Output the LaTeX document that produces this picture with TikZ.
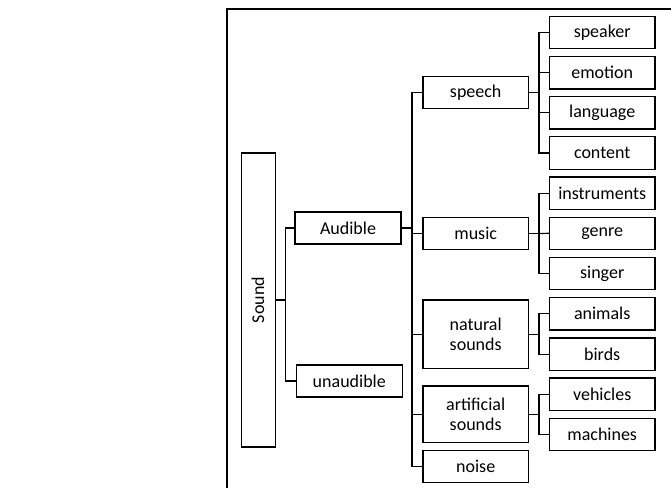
\documentclass[tikz,border=0pt]{standalone}
\usepackage{fontspec}
\setmainfont{Carlito}
\begin{document}
\begin{tikzpicture}[x=1pt,y=-1pt,
  box/.style={draw,line width=1.2pt,rectangle,inner sep=0pt,align=center,
    font=\fontsize{18}{20.5}\selectfont},
  lvtwo/.style={box,minimum width=105.3pt},
  lvthree/.style={box,minimum width=105.7pt,minimum height=32.3pt},
  conn/.style={line width=1.2pt}]
\useasboundingbox (0,0) rectangle (671,488);
\draw[line width=1.8pt] (227,488) -- (227,9) -- (671,9);
% level 0
\node[box,minimum width=34pt,minimum height=294pt] (sound) at (258.7,300) {};
\node[font=\fontsize{18}{20.5}\selectfont,rotate=90] (soundtxt) at (258,300) {Sound};
% level 1
\node[box,minimum width=106pt,minimum height=32pt] (aud) at (348,228) {Audible};
\node[box,minimum width=106pt,minimum height=32pt] (unaud) at (349.3,381) {unaudible};
% level 2
\node[lvtwo,minimum height=32pt] (speech) at (475.7,92.7) {speech};
\node[lvtwo,minimum height=32.4pt] (music) at (475.7,233.5) {music};
\node[lvtwo,minimum height=68.3pt] (natural) at (475.7,334.2) {natural\\sounds};
\node[lvtwo,minimum height=56.3pt] (artificial) at (475.7,414.2) {artificial\\sounds};
\node[lvtwo,minimum height=32pt] (noise) at (475.7,466.7) {noise};
% level 3
\node[lvthree] (speaker) at (602.2,32.5) {speaker};
\node[lvthree] (emotion) at (602.2,72.8) {emotion};
\node[lvthree] (language) at (602.2,112.8) {language};
\node[lvthree] (content) at (602.2,153) {content};
\node[lvthree] (instruments) at (602.2,193.2) {instruments};
\node[lvthree] (genre) at (602.2,233.3) {genre};
\node[lvthree] (singer) at (602.2,273.5) {singer};
\node[lvthree] (animals) at (602.2,313.8) {animals};
\node[lvthree] (birds) at (602.2,354.2) {birds};
\node[lvthree] (vehicles) at (602.2,394.2) {vehicles};
\node[lvthree] (machines) at (602.2,434.5) {machines};
% buses
\coordinate (b0) at (285.7,300);
\coordinate (b1) at (412,228);
\coordinate (bs) at (539,92.7);
\coordinate (bm) at (539,233.5);
\coordinate (bn) at (539,334.2);
\coordinate (ba) at (539,414.2);
\draw[conn] (sound.east |- b0) -- (b0);
\draw[conn] (aud.west) -| (b0) |- (unaud.west);
\draw[conn] (aud.east) -- (b1);
\draw[conn] (speech.west) -| (b1) |- (noise.west);
\draw[conn] (b1 |- music.west) -- (music.west);
\draw[conn] (b1 |- natural.west) -- (natural.west);
\draw[conn] (b1 |- artificial.west) -- (artificial.west);
\draw[conn] (speech.east) -- (bs);
\draw[conn] (speaker.west) -| (bs) |- (content.west);
\draw[conn] (bs |- emotion.west) -- (emotion.west);
\draw[conn] (bs |- language.west) -- (language.west);
\draw[conn] (music.east) -- (bm);
\draw[conn] (instruments.west) -| (bm) |- (singer.west);
\draw[conn] (bm) -- (genre.west);
\draw[conn] (natural.east) -- (bn);
\draw[conn] (animals.west) -| (bn) |- (birds.west);
\draw[conn] (artificial.east) -- (ba);
\draw[conn] (vehicles.west) -| (ba) |- (machines.west);
\end{tikzpicture}
\end{document}
